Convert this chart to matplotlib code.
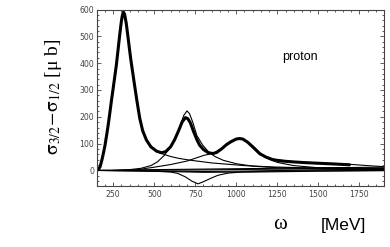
import matplotlib
matplotlib.use("Agg")
import matplotlib.pyplot as plt
from matplotlib.ticker import MultipleLocator, FixedLocator

plt.rcParams['mathtext.fontset'] = 'stix'

# ---------------- data ----------------
total_x = [150, 160, 170, 180, 190, 200, 210, 220, 230, 240, 250, 260, 270, 280, 290, 300, 306,
           313, 320, 330, 340, 350, 358, 370, 380, 396, 412, 430, 453, 480, 514, 544, 570, 600,
           625, 650, 670, 690, 705, 720, 740, 760, 777, 800, 830, 858, 880, 910, 940, 970, 1000,
           1020, 1040, 1070, 1100, 1142, 1180, 1223, 1280, 1344, 1420, 1527, 1600, 1689]
total_y = [0, 4, 13, 35, 62, 92, 130, 170, 215, 262, 305, 350, 395, 450, 505, 555, 578,
           590, 582, 548, 500, 450, 412, 362, 320, 255, 195, 148, 113, 88, 72, 66, 70, 88,
           115, 150, 180, 197, 193, 178, 145, 115, 94, 78, 66, 63, 67, 80, 96, 108, 117,
           119, 117, 105, 88, 63, 50, 40, 35, 32, 29, 26, 24, 21]

delta_x = [150, 170, 190, 210, 230, 250, 270, 290, 300, 313, 330, 350, 370, 396, 412, 430, 453,
           480, 514, 544, 600, 650, 700, 747, 800, 850, 949, 1050, 1223, 1400, 1600, 1900]
delta_y = [0, 13, 62, 130, 215, 305, 395, 505, 555, 590, 548, 450, 362, 255, 195, 148, 113,
           88, 72, 63, 52, 45, 40, 36, 32, 28, 23, 18, 13, 10, 8, 6]

d13_x = [250, 350, 420, 480, 520, 560, 600, 630, 660, 680, 700, 715, 735, 760, 796, 830, 870,
         920, 1000, 1100, 1250, 1500, 1900]
d13_y = [0, 3, 8, 18, 32, 55, 88, 120, 170, 205, 222, 212, 180, 130, 94, 70, 52,
         38, 25, 16, 10, 6, 3]

f15_x = [300, 400, 443, 500, 600, 700, 807, 858, 900, 950, 1000, 1020, 1050, 1100, 1150, 1200,
         1250, 1350, 1500, 1700, 1900]
f15_y = [0, 2, 7, 12, 22, 35, 57, 63, 78, 98, 115, 119, 114, 92, 62, 42,
         30, 18, 10, 6, 4]

s11_x = [150, 400, 500, 600, 643, 690, 730, 767, 800, 850, 889, 950, 1050, 1200, 1500, 1900]
s11_y = [0, -1, -3, -6, -11, -24, -40, -50, -42, -28, -18, -10, -5, -3, -1, 0]

other_x = [1142, 1223, 1344, 1527, 1689, 1800, 1900]
other_y = [60, 42, 33, 27, 23, 18, 14]

bg_x = [150, 500, 800, 1100, 1500, 1900]
bg1_y = [0, 3, 5, 7, 10, 12]
bg2_y = [0, -3, -7, -6, -3, -1]
bg3_y = [0, -2, -4, -2, 2, 5]
bg4_y = [0, 1, 2, 4, 6, 8]

xticks = [250, 500, 750, 1000, 1250, 1500, 1750]
yticks = [0, 100, 200, 300, 400, 500, 600]

# ---------------- figure ----------------
fig = plt.figure(figsize=(3.9, 2.47), dpi=100)
ax = fig.add_axes([0.248, 0.247, 0.7366, 0.7145])

thin = dict(color='black', lw=0.8, solid_capstyle='round')
for yy in (bg1_y, bg2_y, bg3_y, bg4_y):
    ax.plot(bg_x, yy, **thin)
ax.plot(s11_x, s11_y, **thin)
ax.plot(delta_x, delta_y, **thin)
ax.plot(d13_x, d13_y, **thin)
ax.plot(f15_x, f15_y, **thin)
ax.plot(other_x, other_y, **thin)
ax.plot(total_x, total_y, color='black', lw=2.2, solid_capstyle='round', solid_joinstyle='round')

ax.set_xlim(150, 1900)
ax.set_ylim(-58, 600)
ax.xaxis.set_major_locator(FixedLocator(xticks))
ax.yaxis.set_major_locator(FixedLocator(yticks))
ax.xaxis.set_minor_locator(MultipleLocator(50))
ax.yaxis.set_minor_locator(MultipleLocator(20))
ax.tick_params(which='both', direction='in', top=True, right=True, colors='#444',
               labelsize=5.6, width=0.6)
ax.tick_params(which='major', length=3)
ax.tick_params(which='minor', length=1.5)
ax.tick_params(axis='x', pad=3)
ax.tick_params(axis='y', pad=2)
for s in ax.spines.values():
    s.set_color('#444')
    s.set_linewidth(0.8)

fig.text(0.136, 0.61, r'$\mathrm{\sigma}_{3/2}\!-\!\mathrm{\sigma}_{1/2}$ [μ b]', rotation=90,
         ha='center', va='center', fontsize=14, family='Liberation Serif')
fig.text(280 / 390, 1 - 224 / 247, 'ω', ha='center', va='center', fontsize=15,
         family='Liberation Serif')
fig.text(343 / 390, 1 - 225 / 247, '[MeV]', ha='center', va='center', fontsize=12.5,
         family='Liberation Sans')
ax.text(300 / 390, 1 - 57 / 247, 'proton', transform=fig.transFigure, ha='center',
        va='center', fontsize=9, family='Liberation Sans')

fig.savefig('out.png', dpi=100)
